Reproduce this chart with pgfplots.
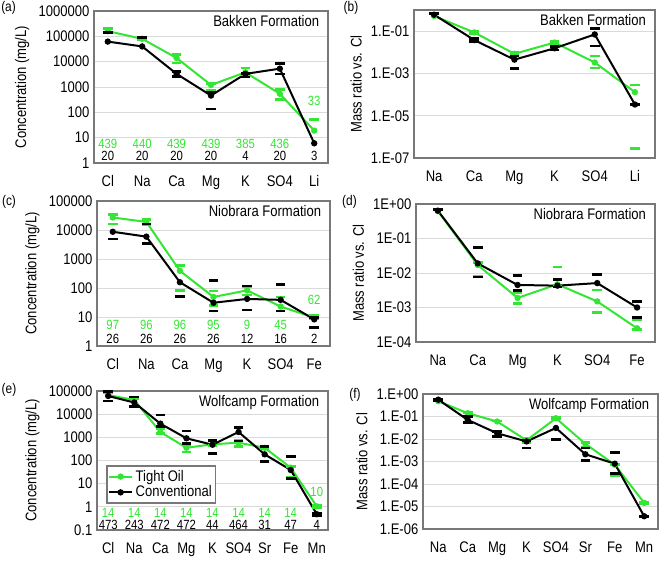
\documentclass[border=0pt]{standalone}
\usepackage{fontspec}
\setmainfont{Liberation Sans}[FakeStretch=0.85]
\usepackage{pgfplots}
\pgfplotsset{compat=1.18}
\definecolor{tgreen}{RGB}{51,230,51}
\definecolor{framegray}{RGB}{120,120,120}
\definecolor{gridgray}{RGB}{218,218,218}
\newcommand{\fs}{\fontsize{11.5}{13}\selectfont}
\newcommand{\fn}{\fontsize{10.5}{12}\selectfont}
\newcommand{\fc}{\fontsize{10}{11}\selectfont}
\pgfplotsset{
 mypanel/.style={scale only axis, anchor=south west, clip=false,
   axis line style={draw=framegray, line width=1pt},
   ymajorgrids, grid style={draw=gridgray, line width=0.7pt},
   major tick length=0pt, minor tick length=0pt,
   tick label style={font=\fs}, xticklabel style={yshift=-6pt},
   label style={font=\fs}},
 mygline/.style={tgreen, line width=1.5pt, mark=*, mark size=1.6pt, mark options={solid, fill=tgreen}},
 mykline/.style={black, line width=1.5pt, mark=*, mark size=1.6pt, mark options={solid, fill=black}},
 mygdash/.style={only marks, forget plot, mark=-, mark size=3.6pt, tgreen, mark options={line width=2pt}},
 mykdash/.style={only marks, forget plot, mark=-, mark size=3.6pt, black, mark options={line width=2pt}},
}
\tikzset{myttl/.style={anchor=north east, font=\fs, inner sep=3pt},
 gl/.style={font=\fc, text=tgreen, inner sep=0pt},
 kl/.style={font=\fc, text=black, inner sep=0pt}}
\begin{document}
\begin{tikzpicture}
\path[use as bounding box] (0,0) rectangle (495.75pt,-421.5pt);
% panel labels
\node[font=\fn] at (6.4pt,-6pt) {(a)};
\node[font=\fn] at (263.25pt,-5.6pt) {(b)};
\node[font=\fn] at (6.75pt,-151.5pt) {(c)};
\node[font=\fn] at (262.1pt,-151.5pt) {(d)};
\node[font=\fn] at (6.75pt,-292.5pt) {(e)};
\node[font=\fn] at (266.25pt,-296.25pt) {(f)};

% (a)
\begin{axis}[mypanel, ymode=log, at={(70.5pt,-122.25pt)}, width=175.5pt, height=114pt,
  xmin=-0.4, xmax=6.4, ymin=1, ymax=1e6,
  xtick={0,...,6}, xticklabels={Cl,Na,Ca,Mg,K,SO4,Li},
  ytick={1,10,100,1000,10000,100000,1000000},
  yticklabels={1,10,100,1000,10000,100000,1000000},
  ylabel={Concentration (mg/L)}]
\addplot[mygdash] coordinates {(0,200000)(0,147000)(1,95000)(1,72000)(2,19000)(2,8900)(3,1400)(3,720)(4,5600)(4,3000)(5,820)(5,330)(6,53)};
\addplot[mygline] coordinates {(0,160000)(1,80000)(2,14000)(3,1200)(4,3800)(5,540)(6,19)};
\addplot[mykdash] coordinates {(0,140000)(1,90000)(2,4100)(2,2600)(3,600)(3,135)(4,3500)(4,2500)(5,8300)(5,3300)};
\addplot[mykline] coordinates {(0,62000)(1,40000)(2,3300)(3,460)(4,3300)(5,5300)(6,6)};
\node[gl] at (axis cs:0,5.6) {439}; \node[gl] at (axis cs:1,5.6) {440};
\node[gl] at (axis cs:2,5.6) {439}; \node[gl] at (axis cs:3,5.6) {439};
\node[gl] at (axis cs:4,5.6) {385}; \node[gl] at (axis cs:5,5.6) {436};
\node[gl] at (axis cs:6,295) {33};
\node[kl] at (axis cs:0,1.9) {20}; \node[kl] at (axis cs:1,1.9) {20};
\node[kl] at (axis cs:2,1.9) {20}; \node[kl] at (axis cs:3,1.9) {20};
\node[kl] at (axis cs:4,1.9) {4}; \node[kl] at (axis cs:5,1.9) {20};
\node[kl] at (axis cs:6,1.9) {3};
\node[myttl] at (rel axis cs:0.98,1) {Bakken Formation};
\end{axis}

% (b)
\begin{axis}[mypanel, ymode=log, at={(310.5pt,-118.5pt)}, width=180.75pt, height=111pt,
  xmin=-0.5, xmax=5.5, ymin=1e-7, ymax=1,
  xtick={0,...,5}, xticklabels={Na,Ca,Mg,K,SO4,Li},
  ytick={1e-7,1e-5,1e-3,1e-1},
  yticklabels={1.E-07,1.E-05,1.E-03,1.E-01},
  ylabel={Mass ratio vs. Cl}]
\addplot[mygdash] coordinates {(1,0.1)(1,0.075)(2,0.0097)(2,0.007)(3,0.033)(3,0.025)(4,0.0068)(4,0.0018)(5,2.8e-4)(5,2.8e-7)};
\addplot[mygline] coordinates {(0,0.52)(1,0.087)(2,0.0085)(3,0.029)(4,0.0033)(5,1.3e-4)};
\addplot[mykdash] coordinates {(0,0.66)(1,0.046)(1,0.032)(2,0.0068)(2,0.0017)(3,0.0186)(3,0.013)(4,0.13)(4,0.02)(5,3.4e-5)};
\addplot[mykline] coordinates {(0,0.6)(1,0.038)(2,0.0045)(3,0.0155)(4,0.07)(5,3.4e-5)};
\node[myttl] at (rel axis cs:0.98,1) {Bakken Formation};
\end{axis}

% (c)
\begin{axis}[mypanel, ymode=log, at={(72.75pt,-259.5pt)}, width=174.75pt, height=108.75pt,
  xmin=-0.47, xmax=6.47, ymin=1, ymax=1e5,
  xtick={0,...,6}, xticklabels={Cl,Na,Ca,Mg,K,SO4,Fe},
  ytick={1,10,100,1000,10000,100000},
  yticklabels={1,10,100,1000,10000,100000},
  ylabel={Concentration (mg/L)}]
\addplot[mygdash] coordinates {(0,35000)(0,16000)(1,23000)(1,15000)(2,600)(2,83)(3,79)(3,25)(4,111)(4,57)(5,49)(5,16)(6,11)(6,8.5)};
\addplot[mygline] coordinates {(0,27000)(1,19000)(2,390)(3,49)(4,83)(5,23)(6,9.5)};
\addplot[mykdash] coordinates {(0,4900)(1,16000)(1,3500)(2,50)(3,183)(3,16)(4,117)(4,17.5)(5,134)(5,16)(6,9.5)(6,4.4)};
\addplot[mykline] coordinates {(0,8700)(1,5900)(2,158)(3,31)(4,42)(5,39)(6,8.3)};
\node[gl] at (axis cs:0,5.3) {97}; \node[gl] at (axis cs:1,5.3) {96};
\node[gl] at (axis cs:2,5.3) {96}; \node[gl] at (axis cs:3,5.3) {95};
\node[gl] at (axis cs:4,5.3) {9}; \node[gl] at (axis cs:5,5.3) {45};
\node[gl] at (axis cs:6,39) {62};
\node[kl] at (axis cs:0,1.74) {26}; \node[kl] at (axis cs:1,1.74) {26};
\node[kl] at (axis cs:2,1.74) {26}; \node[kl] at (axis cs:3,1.74) {26};
\node[kl] at (axis cs:4,1.74) {12}; \node[kl] at (axis cs:5,1.74) {16};
\node[kl] at (axis cs:6,1.74) {2};
\node[myttl] at (rel axis cs:0.98,1) {Niobrara Formation};
\end{axis}

% (d)
\begin{axis}[mypanel, ymode=log, at={(312pt,-256.5pt)}, width=179.25pt, height=103.5pt,
  xmin=-0.55, xmax=5.45, ymin=1e-4, ymax=1,
  xtick={0,...,5}, xticklabels={Na,Ca,Mg,K,SO4,Fe},
  ytick={1e-4,1e-3,1e-2,1e-1,1},
  yticklabels={1E-04,1E-03,1E-02,1E-01,1E+00},
  ylabel={Mass ratio vs. Cl}]
\addplot[mygdash] coordinates {(0,0.68)(1,0.02)(1,0.0081)(2,0.0027)(2,0.0013)(3,0.015)(3,0.004)(4,0.0032)(4,0.00071)(5,0.00043)(5,0.00023)};
\addplot[mygline] coordinates {(0,0.62)(1,0.017)(2,0.0019)(3,0.0047)(4,0.0015)(5,0.00025)};
\addplot[mykdash] coordinates {(0,0.7)(1,0.055)(1,0.0076)(2,0.0083)(2,0.0031)(3,0.0066)(3,0.0039)(4,0.0091)(5,0.0015)(5,0.00051)};
\addplot[mykline] coordinates {(0,0.64)(1,0.019)(2,0.0045)(3,0.0043)(4,0.0051)(5,0.001)};
\node[myttl] at (rel axis cs:0.98,1) {Niobrara Formation};
\end{axis}

% (e)
\begin{axis}[mypanel, ymode=log, at={(72.75pt,-397.5pt)}, width=173.25pt, height=104.25pt,
  xmin=-0.43, xmax=8.43, ymin=0.1, ymax=1e5,
  xtick={0,...,8}, xticklabels={Cl,Na,Ca,Mg,K,SO4,Sr,Fe,Mn},
  ytick={0.1,1,10,100,1000,10000,100000},
  yticklabels={0.1,1,10,100,1000,10000,100000},
  ylabel={Concentration (mg/L)},
  legend style={at={(0.04,0.19)}, anchor=south west, draw=framegray, line width=1pt, font=\fs, inner sep=1pt, row sep=-2pt},
  legend cell align=left]
\addplot[mygdash] coordinates {(0,88000)(1,48000)(2,2400)(2,1450)(3,470)(3,235)(4,760)(4,440)(5,760)(5,400)(6,400)(6,316)(7,54)(7,18)(8,1.2)(8,0.95)};
\addplot[mygline] coordinates {(0,67000)(1,41000)(2,1700)(3,355)(4,500)(5,590)(6,355)(7,49)(8,1.05)};
\addlegendentry{Tight Oil}
\addplot[mykdash] coordinates {(0,93000)(0,37000)(1,55000)(1,22000)(2,9200)(2,2900)(3,1870)(3,550)(4,720)(4,195)(5,2600)(5,690)(6,400)(6,89)(7,148)(7,17)(8,0.52)(8,0.42)};
\addplot[mykline] coordinates {(0,61000)(1,32000)(2,3900)(3,910)(4,480)(5,1700)(6,185)(7,39)(8,0.48)};
\addlegendentry{Conventional}
\node[gl] at (axis cs:0,0.56) {14}; \node[gl] at (axis cs:1,0.56) {14};
\node[gl] at (axis cs:2,0.56) {14}; \node[gl] at (axis cs:3,0.56) {14};
\node[gl] at (axis cs:4,0.56) {14}; \node[gl] at (axis cs:5,0.56) {14};
\node[gl] at (axis cs:6,0.56) {14}; \node[gl] at (axis cs:7,0.56) {14};
\node[gl] at (axis cs:8,4.5) {10};
\node[kl] at (axis cs:0,0.166) {473}; \node[kl] at (axis cs:1,0.166) {243};
\node[kl] at (axis cs:2,0.166) {472}; \node[kl] at (axis cs:3,0.166) {472};
\node[kl] at (axis cs:4,0.166) {44}; \node[kl] at (axis cs:5,0.166) {464};
\node[kl] at (axis cs:6,0.166) {31}; \node[kl] at (axis cs:7,0.166) {47};
\node[kl] at (axis cs:8,0.166) {4};
\node[myttl] at (rel axis cs:0.98,1) {Wolfcamp Formation};
\end{axis}

% (f)
\begin{axis}[mypanel, ymode=log, at={(317.25pt,-396.75pt)}, width=176.25pt, height=101.25pt,
  xmin=-0.52, xmax=7.47, ymin=1e-6, ymax=1,
  xtick={0,...,7}, xticklabels={Na,Ca,Mg,K,SO4,Sr,Fe,Mn},
  ytick={1e-6,1e-5,1e-4,1e-3,1e-2,1e-1,1},
  yticklabels={1.E-06,1.E-05,1.E-04,1.E-03,1.E-02,1.E-01,1.E+00},
  ylabel={Mass ratio vs. Cl}]
\addplot[mygdash] coordinates {(1,0.15)(2,0.063)(3,0.0102)(3,0.0066)(4,0.09)(4,0.078)(5,0.0068)(5,0.0044)(6,0.00075)(6,0.00024)(7,1.6e-5)(7,1.3e-5)};
\addplot[mygline] coordinates {(0,0.48)(1,0.14)(2,0.06)(3,0.0087)(4,0.084)(5,0.0061)(6,0.00072)(7,1.45e-5)};
\addplot[mykdash] coordinates {(0,0.6)(0,0.5)(1,0.099)(1,0.056)(2,0.022)(2,0.013)(3,0.0087)(3,0.004)(4,0.0092)(5,0.004)(5,0.0011)(6,0.0026)(6,0.00029)(7,3.7e-6)};
\addplot[mykline] coordinates {(0,0.56)(1,0.071)(2,0.018)(3,0.0078)(4,0.031)(5,0.0021)(6,0.0008)(7,3.7e-6)};
\node[myttl] at (rel axis cs:0.98,1) {Wolfcamp Formation};
\end{axis}
\end{tikzpicture}
\end{document}
